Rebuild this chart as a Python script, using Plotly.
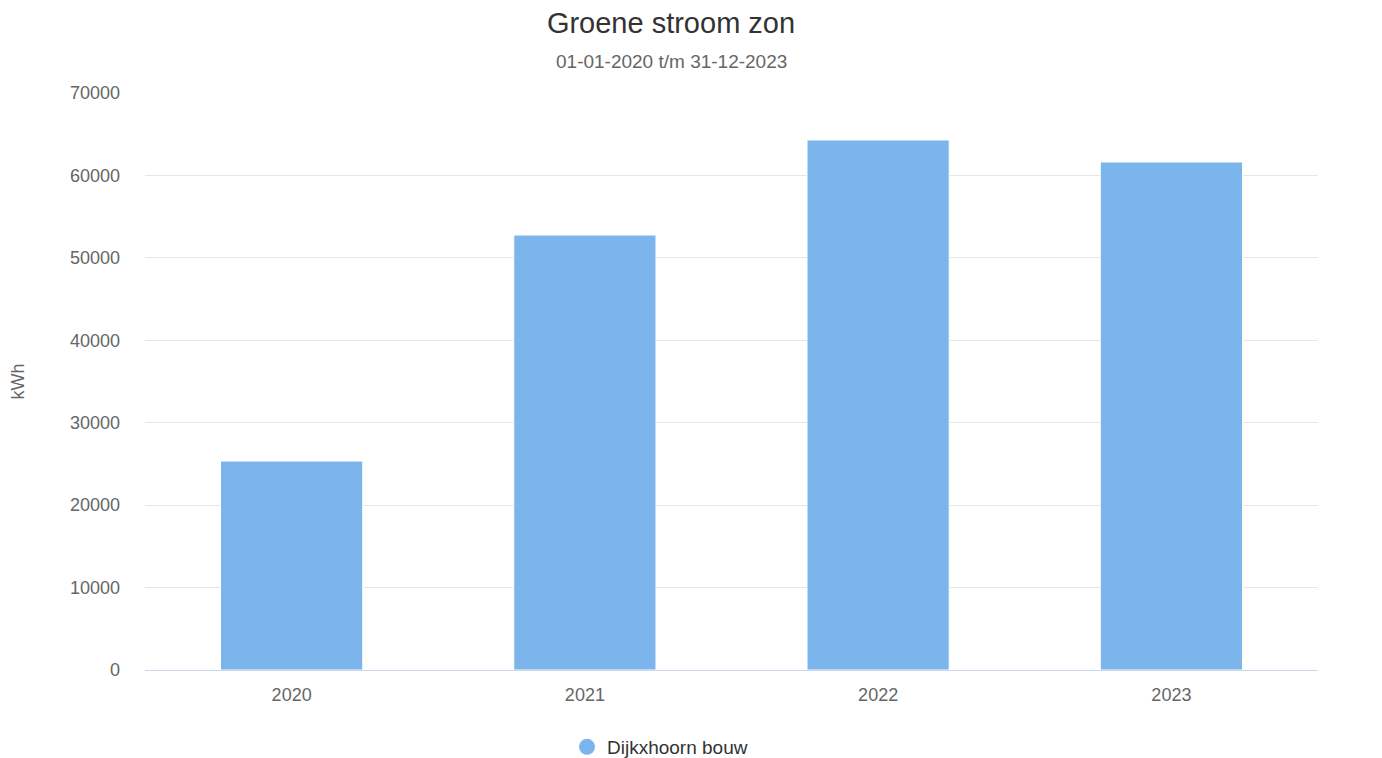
import plotly.graph_objects as go

years = ["2020", "2021", "2022", "2023"]
values = [25350, 52770, 64300, 61630]
series_name = "Dijkxhoorn bouw"
bar_color = "#7cb5ec"

# page body has an 8px margin; figure coordinates are offset accordingly
W, H = 1366, 758
ML, MR, MT, MB = 137, 56, 85, 96
plot_h = H - MT - MB

fig = go.Figure()
fig.add_trace(go.Bar(
    x=years, y=values, name=series_name, showlegend=False,
    marker=dict(color=bar_color, line=dict(color="#ffffff", width=1)),
    width=0.485,
))
fig.add_trace(go.Scatter(
    x=[None], y=[None], mode="markers", name=series_name,
    marker=dict(symbol="circle", size=19, color=bar_color),
))

fig.update_layout(
    width=W, height=H, autosize=False,
    paper_bgcolor="white", plot_bgcolor="white",
    font=dict(family="Liberation Sans, Arial, sans-serif", color="#666666", size=18),
    margin=dict(l=ML, r=MR, t=MT, b=MB, autoexpand=False),
    title=dict(text="Groene stroom zon", xref="container", x=663 / W, xanchor="center",
               yref="container", y=1 - 15 / H, yanchor="middle",
               font=dict(size=29, color="#333333")),
    annotations=[dict(text="01-01-2020 t/m 31-12-2023", xref="paper", yref="paper",
                      x=(663 - ML) / (W - ML - MR), xanchor="center",
                      y=(H - MB - 53) / plot_h, yanchor="middle",
                      showarrow=False, font=dict(size=19, color="#666666"))],
    showlegend=True,
    legend=dict(orientation="h", xref="container", x=652 / W, xanchor="center",
                yref="container", y=1 - 739 / H, yanchor="middle",
                font=dict(size=19, color="#333333")),
    bargap=0.515,
)
fig.update_xaxes(showgrid=False, showline=True, linecolor="#ccd6eb", linewidth=1,
                 ticks="", ticklabelstandoff=8, tickfont=dict(size=18, color="#666666"))
fig.update_yaxes(range=[0, 70000], dtick=10000, showgrid=True, gridcolor="#e6e6e6",
                 zeroline=False, showline=False, ticks="", tickformat="d",
                 ticklabelstandoff=24,
                 title=dict(text="kWh", font=dict(size=18, color="#666666"), standoff=40),
                 tickfont=dict(size=18, color="#666666"))

fig.write_html("out.html")
